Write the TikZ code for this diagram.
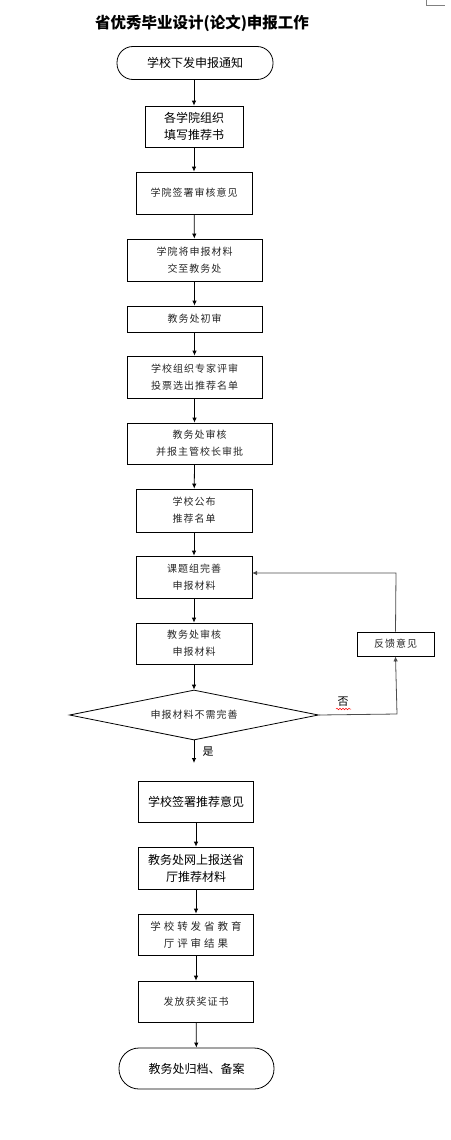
\documentclass[tikz,border=0pt]{standalone}
\usepackage{fontspec}
\setmainfont{Noto Sans CJK SC}
\newfontfamily\lightcjk[LetterSpace=10]{Noto Sans CJK SC}
\newfontfamily\widecjk[LetterSpace=28]{Noto Sans CJK SC}
\usepackage{xcolor}
\usetikzlibrary{positioning}
\usetikzlibrary{shapes.geometric}
\usetikzlibrary{arrows.meta}
\usetikzlibrary{decorations.pathmorphing}

\begin{document}
\begin{tikzpicture}[x=1pt, y=-1pt, line width=0.8pt,
  box/.style={draw, rectangle, inner sep=0pt, align=center, font=\fontsize{12}{17}\selectfont},
  lbox/.style={box, text=black!85, font=\lightcjk\fontsize{10}{17}\selectfont},
  wbox/.style={box, text=black!85, font=\widecjk\fontsize{10.5}{17}\selectfont},
  term/.style={box, rounded corners=#1},
  arr/.style={-{Latex[length=5pt,width=4.5pt]}}]
  \useasboundingbox (0,0) rectangle (450,1140);

  \node[font=\bfseries\fontsize{15.5}{18}\selectfont] (title) at (202,23) {省优秀毕业设计(论文)申报工作};
  \draw[gray, line width=0.6pt] (426,0) -- (426,5) -- (445,5);

  \node[term=16pt, minimum width=156pt, minimum height=33pt] (s0) at (195,63) {学校下发申报通知};
  \node[box, minimum width=98pt, minimum height=41pt] (s1) at (194,126.5) {各学院组织\\填写推荐书};
  \node[lbox, minimum width=116pt, minimum height=42pt] (s2) at (194,193) {学院签署审核意见};
  \node[lbox, minimum width=135pt, minimum height=42pt] (s3) at (194.5,260) {学院将申报材料\\交至教务处};
  \node[lbox, minimum width=135pt, minimum height=26pt] (s4) at (194.5,319) {教务处初审};
  \node[lbox, minimum width=135pt, minimum height=42pt] (s5) at (194.5,377) {学校组织专家评审\\投票选出推荐名单};
  \node[lbox, minimum width=145pt, minimum height=41pt] (s6) at (199.5,443.5) {教务处审核\\并报主管校长审批};
  \node[lbox, minimum width=116pt, minimum height=43pt] (s7) at (194,510.5) {学校公布\\推荐名单};
  \node[lbox, minimum width=116pt, minimum height=42pt] (s8) at (194,577) {课题组完善\\申报材料};
  \node[lbox, minimum width=116pt, minimum height=41pt] (s9) at (194,643.5) {教务处审核\\申报材料};
  \node[lbox, minimum width=77pt, minimum height=24pt] (fb) at (395.5,644) {反馈意见};
  \node[draw, diamond, aspect=5, inner sep=0pt, minimum width=249pt, minimum height=50pt, text=black!85,
        font=\lightcjk\fontsize{10}{17}\selectfont] (d) at (194,715) {申报材料不需完善};

  \node[box, minimum width=115pt, minimum height=41pt] (s10) at (196,801.5) {学校签署推荐意见};
  \node[box, minimum width=115pt, minimum height=42pt] (s11) at (196,868) {教务处网上报送省\\厅推荐材料};
  \node[wbox, minimum width=115pt, minimum height=41pt] (s12) at (196,934.5) {学校转发省教育\\厅评审结果};
  \node[lbox, minimum width=115pt, minimum height=41pt] (s13) at (196,1001.5) {发放获奖证书};
  \node[term=20pt, minimum width=155pt, minimum height=41pt] (s14) at (196.5,1068.5) {教务处归档、备案};

  \coordinate (yes) at (194,763);
  \coordinate (c1) at (397,714);
  \coordinate (c2) at (396,573);
  \coordinate (c3) at (252,573);

  \draw[arr] (s0.south -| s1) -- (s1);
  \draw[arr] (s1) -- (s2);
  \draw[arr] (s2) -- (s3);
  \draw[arr] (s3) -- (s4);
  \draw[arr] (s4) -- (s5);
  \draw[arr] (s5.south) -- (s5.south |- s6.north);
  \draw[arr] (s5.south |- s6.south) -- (s7);
  \draw[arr] (s7) -- (s8);
  \draw[arr] (s8) -- (s9);
  \draw[arr] (s9) -- (d);
  \draw[arr] (d.south) -- (yes);
  \draw[arr] (s10) -- (s11);
  \draw[arr] (s11) -- (s12);
  \draw[arr] (s12) -- (s13);
  \draw[arr] (s13) -- (s14);
  \draw[arr, black!70] (d.east) -- (c1) -- (fb.south);
  \draw[arr, black!70] (fb.north) -- (c2) -- (c3);

  \node[font=\fontsize{11}{13}\selectfont, inner sep=0pt] (no) at (343,702) {否};
  \draw[red, line width=0.5pt, decorate, decoration={snake, amplitude=0.8pt, segment length=3pt}] (336,709) -- (351,709);
  \node[font=\fontsize{11}{13}\selectfont, inner sep=0pt] (ok) at (208,752) {是};
\end{tikzpicture}
\end{document}
